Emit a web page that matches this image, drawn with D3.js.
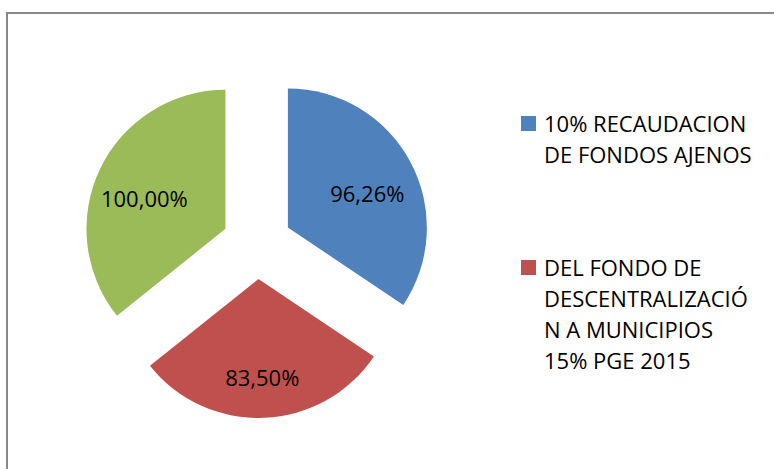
<!DOCTYPE html>
<html lang="es">
<head>
  <meta charset="UTF-8">
  <title>Pie</title>
  <script src="https://d3js.org/d3.v7.min.js"></script>
  <style>
    body { margin: 0; background: #fff; }
    svg text { font-family: "Open Sans", sans-serif; fill: #000; }
  </style>
</head>
<body>
  <div id="chart"></div>
  <script>
    const sliceValues = [96.26, 83.50, 100.00];
    const sliceLabels = ["96,26%", "83,50%", "100,00%"];
    const sliceColors = ["#4F81BD", "#C0504D", "#9BBB59"];
    const legendLabels = [
      ["10% RECAUDACION", "DE FONDOS AJENOS"],
      ["DEL FONDO DE", "DESCENTRALIZACIÓ", "N A MUNICIPIOS", "15% PGE 2015"]
    ];

    const width = 774, height = 469;
    const cx = 257, cy = 244, radius = 139, explode = 35, labelR = 90;

    const svg = d3.select("#chart").append("svg").attr("width", width).attr("height", height);

    // chart frame (runs off the right and bottom edges)
    svg.append("rect").attr("x", 7).attr("y", 13).attr("width", 800).attr("height", 500)
      .attr("fill", "none").attr("stroke", "#878787").attr("stroke-width", 2);

    const pie = d3.pie().sort(null).value(d => d)(sliceValues);
    const arc = d3.arc().innerRadius(0).outerRadius(radius);
    const mid = d => (d.startAngle + d.endAngle) / 2;

    const g = svg.append("g").attr("transform", `translate(${cx},${cy})`);
    const slices = g.selectAll("g.slice").data(pie).join("g")
      .attr("class", "slice")
      .attr("transform", d => `translate(${Math.sin(mid(d)) * explode},${-Math.cos(mid(d)) * explode})`);

    slices.append("path").attr("d", arc).attr("fill", (d, i) => sliceColors[i]);

    slices.append("text")
      .attr("x", d => Math.sin(mid(d)) * labelR)
      .attr("y", d => -Math.cos(mid(d)) * labelR + 8)
      .attr("text-anchor", "middle")
      .attr("dominant-baseline", "central")
      .style("font-size", "22px")
      .text((d, i) => sliceLabels[i]);

    // legend
    const legendTops = [116, 260];
    const legend = svg.append("g");
    legendLabels.forEach((lines, i) => {
      const lg = legend.append("g").attr("transform", `translate(521,${legendTops[i]})`);
      lg.append("rect").attr("width", 15).attr("height", 15).attr("fill", sliceColors[i]);
      lines.forEach((t, j) => {
        lg.append("text").attr("x", 23).attr("y", 15.5 + j * 31)
          .style("font-size", "22px").text(t);
      });
    });
  </script>
</body>
</html>
